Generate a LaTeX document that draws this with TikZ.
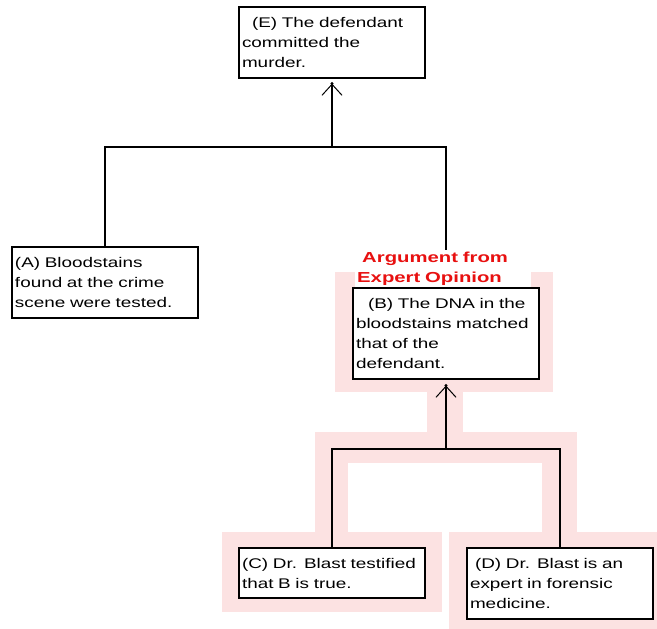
\documentclass[tikz,border=0pt]{standalone}
\usepackage{fontspec}
\setmainfont{Liberation Sans}[FakeStretch=1.35]
\newfontfamily\lblfont{Liberation Sans}[FakeStretch=1.4]
\usetikzlibrary{arrows.meta}
\definecolor{hl}{RGB}{252,226,226}
\definecolor{lblred}{RGB}{232,16,16}
\tikzset{
  claim/.style={draw, line width=1.1pt, fill=white, align=left,
    text width=180pt, inner xsep=3pt, inner ysep=0pt, minimum width=186pt,
    font=\fontsize{14}{20}\selectfont},
  link/.style={line width=1.2pt},
  supp/.style={line width=1.2pt, -{Straight Barb[length=11pt,width=20pt,line width=1pt]}},
  tipdot/.style={fill=black},
  pinkarea/.style={fill=hl, draw=none},
  schemelbl/.style={fill=white, align=left, inner sep=2pt, text width=172pt,
    text=lblred, font=\lblfont\bfseries\fontsize{14.5}{19.5}\selectfont}
}
\begin{document}
\begin{tikzpicture}[x=1pt, y=-1pt]
\useasboundingbox (0,0) rectangle (657,629);
% highlighted scheme area
\fill[pinkarea] (335,272) rectangle (553,392);
\fill[pinkarea] (427,392) rectangle (463,432);
\fill[pinkarea] (315,432) rectangle (577,532);
\fill[white] (348,463) rectangle (542,532);
\fill[pinkarea] (222,532) rectangle (442,612);
\fill[pinkarea] (449,532) rectangle (657,629);
% claims
\node[claim, minimum height=71pt] (E) at (332,42.5) {\hspace*{10pt}(E) The defendant\\committed the\\murder.};
\node[claim, minimum height=71pt] (A) at (105,282.5) {(A) Bloodstains\\found at the crime\\scene were tested.};
\node[claim, minimum height=91pt] (B) at (446,333.5) {\hspace*{12pt}(B) The DNA in the\\bloodstains matched\\that of the\\defendant.};
\node[claim, minimum height=50pt] (C) at (332,573) {(C) Dr. Blast testified\\that B is true.};
\node[claim, minimum height=71pt] (D) at (560,583.5) {\hspace*{5pt}(D) Dr. Blast is an\\expert in forensic\\medicine.};
% upper argument
\coordinate (jE) at (332,147);
\coordinate (tipE) at ([yshift=-5pt]E.south);
\draw[link] (A.north) |- (jE) -| (B.north);
\draw[supp] (jE) -- (tipE);
\fill[tipdot] (tipE) circle (1.6pt);
% lower argument
\coordinate (jB) at (446,449);
\coordinate (tipB) at ([yshift=-6pt]B.south);
\draw[link] (C.north) |- (jB) -| (D.north);
\draw[supp] (jB) -- (tipB);
\fill[tipdot] (tipB) circle (1.6pt);
% scheme label
\node[schemelbl, anchor=south west] (lbl) at (355,287.4) {\hspace*{5pt}Argument from\\Expert Opinion};
\end{tikzpicture}
\end{document}
